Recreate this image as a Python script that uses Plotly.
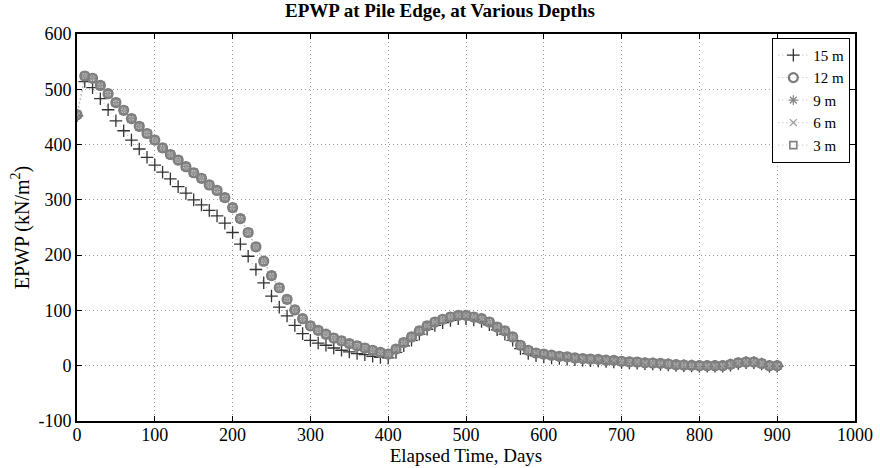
import plotly.graph_objects as go

# Elapsed time (days)
days = list(range(0, 910, 10))

# EPWP at 15 m depth (kN/m^2)
epwp_15m = [452, 514, 503, 483, 463, 443, 425, 408, 392, 377,
            363, 350, 338, 324, 312, 300, 291, 281, 271, 258,
            241, 220, 198, 174, 150, 126, 106, 90, 73, 58,
            46, 41, 37, 32, 28, 25, 22, 20, 17, 15,
            14, 24, 36, 46, 57, 66, 73, 78, 82, 85,
            85, 83, 80, 74, 65, 57, 46, 31, 22, 18,
            16, 14, 13, 12, 11, 10, 9, 8.5, 7.5, 7,
            6, 5, 4.5, 3.5, 3, 2.5, 1.5, 0.5, 0, -0.5,
            -1, -1, -1, -1, 1, 4, 5.5, 5.5, 3, -1, -1]

# EPWP at 12 m, 9 m, 6 m, 3 m (practically coincident in the chart)
epwp_12m = [454, 524, 520, 507, 492, 476, 462, 447, 433, 420,
            408, 394, 382, 372, 360, 349, 339, 327, 317, 304,
            286, 266, 241, 215, 189, 163, 141, 120, 101, 85,
            72, 64, 57, 50, 45, 40, 36, 32, 28, 24,
            21, 30, 42, 52, 63, 72, 79, 84, 88, 91,
            91, 88, 85, 79, 70, 63, 52, 37, 28, 23,
            21, 19, 17, 16, 14, 13, 12, 11.5, 10, 9.6,
            8, 7, 6.7, 5.4, 4.9, 4.3, 3, 1.8, 1.2, 0.6,
            0, 0, 0, 0, 2.4, 5.4, 6.7, 6.7, 4, 0, 0]
epwp_9m = [454, 524, 520, 507, 492, 476, 462, 447, 433, 420,
           408, 394, 382, 372, 360, 349, 339, 327, 317, 304,
           286, 266, 241, 215, 189, 163, 141, 120, 101, 85,
           72, 64, 57, 50, 45, 40, 36, 32, 28, 24,
           21, 30, 42, 52, 63, 72, 79, 84, 88, 91,
           91, 88, 85, 79, 70, 63, 52, 37, 28, 23,
           21, 19, 17, 16, 14, 13, 12, 11.5, 10, 9.6,
           8, 7, 6.7, 5.4, 4.9, 4.3, 3, 1.8, 1.2, 0.6,
           0, 0, 0, 0, 2.4, 5.4, 6.7, 6.7, 4, 0, 0]
epwp_6m = [454, 524, 520, 507, 492, 476, 462, 447, 433, 420,
           408, 394, 382, 372, 360, 349, 339, 327, 317, 304,
           286, 266, 241, 215, 189, 163, 141, 120, 101, 85,
           72, 64, 57, 50, 45, 40, 36, 32, 28, 24,
           21, 30, 42, 52, 63, 72, 79, 84, 88, 91,
           91, 88, 85, 79, 70, 63, 52, 37, 28, 23,
           21, 19, 17, 16, 14, 13, 12, 11.5, 10, 9.6,
           8, 7, 6.7, 5.4, 4.9, 4.3, 3, 1.8, 1.2, 0.6,
           0, 0, 0, 0, 2.4, 5.4, 6.7, 6.7, 4, 0, 0]
epwp_3m = [454, 524, 520, 507, 492, 476, 462, 447, 433, 420,
           408, 394, 382, 372, 360, 349, 339, 327, 317, 304,
           286, 266, 241, 215, 189, 163, 141, 120, 101, 85,
           72, 64, 57, 50, 45, 40, 36, 32, 28, 24,
           21, 30, 42, 52, 63, 72, 79, 84, 88, 91,
           91, 88, 85, 79, 70, 63, 52, 37, 28, 23,
           21, 19, 17, 16, 14, 13, 12, 11.5, 10, 9.6,
           8, 7, 6.7, 5.4, 4.9, 4.3, 3, 1.8, 1.2, 0.6,
           0, 0, 0, 0, 2.4, 5.4, 6.7, 6.7, 4, 0, 0]

series_names = ["15 m", "12 m", "9 m", "6 m", "3 m"]
series_values = [epwp_15m, epwp_12m, epwp_9m, epwp_6m, epwp_3m]

# Axis ticks
x_tick_vals = [0, 100, 200, 300, 400, 500, 600, 700, 800, 900, 1000]
y_tick_vals = [-100, 0, 100, 200, 300, 400, 500, 600]
y_tick_text = ["-100", "0", "100", "200", "300", "400", "500", "600"]

symbols = ["cross-thin-open", "circle-open", "asterisk-open", "x-thin-open", "square-open"]
marker_colors = ["#333333", "#7a7a7a", "#8a8a8a", "#9a9a9a", "#808080"]
marker_sizes = [9, 9, 8, 7, 7]
marker_widths = [1.3, 2.2, 1.3, 1.3, 1.6]

FONT = "Liberation Serif, Times New Roman, serif"

fig = go.Figure()
for name, vals, sym, col, sz, lw in zip(series_names, series_values, symbols,
                                         marker_colors, marker_sizes, marker_widths):
    fig.add_trace(go.Scatter(
        x=days, y=vals, name=name, mode="lines+markers",
        line=dict(color="#b8b8b8", width=1, dash="1px,3px"),
        marker=dict(symbol=sym, size=sz, color=col, line=dict(color=col, width=lw)),
    ))

axis_common = dict(
    showline=True, linecolor="black", linewidth=1.6, mirror="ticks",
    ticks="inside", ticklen=5, tickcolor="black", tickwidth=1,
    showgrid=True, gridcolor="#9a9a9a", griddash="1px,3px", gridwidth=1,
    zeroline=False, automargin=False,
    tickfont=dict(family=FONT, size=18, color="black"),
)

fig.update_layout(
    width=880, height=468,
    paper_bgcolor="white", plot_bgcolor="white",
    margin=dict(l=77, r=25, t=34, b=47),
    font=dict(family=FONT, color="black"),
    title=dict(text="<b>EPWP at Pile Edge, at Various Depths</b>",
               x=0.5, xanchor="center", y=0.993, yanchor="top",
               font=dict(family=FONT, size=19, color="black")),
    xaxis=dict(range=[0, 1000], tickvals=x_tick_vals, ticklabelstandoff=-3,
               title=dict(text="Elapsed Time, Days", standoff=4,
                          font=dict(family=FONT, size=19)),
               **axis_common),
    yaxis=dict(range=[-100, 600], tickvals=y_tick_vals, ticktext=y_tick_text,
               title=dict(text="EPWP (kN/m<sup>2</sup>)", standoff=4,
                          font=dict(family=FONT, size=20)),
               **axis_common),
    legend=dict(x=0.994, xanchor="right", y=0.99, yanchor="top",
                bgcolor="white", bordercolor="black", borderwidth=1,
                font=dict(family=FONT, size=15, color="black"),
                itemwidth=30, tracegroupgap=0),
    showlegend=True,
)

fig.write_html(
    "out.html",
    config={"displayModeBar": False},
    post_script="document.body.style.margin='0';document.body.style.overflow='hidden';",
)
